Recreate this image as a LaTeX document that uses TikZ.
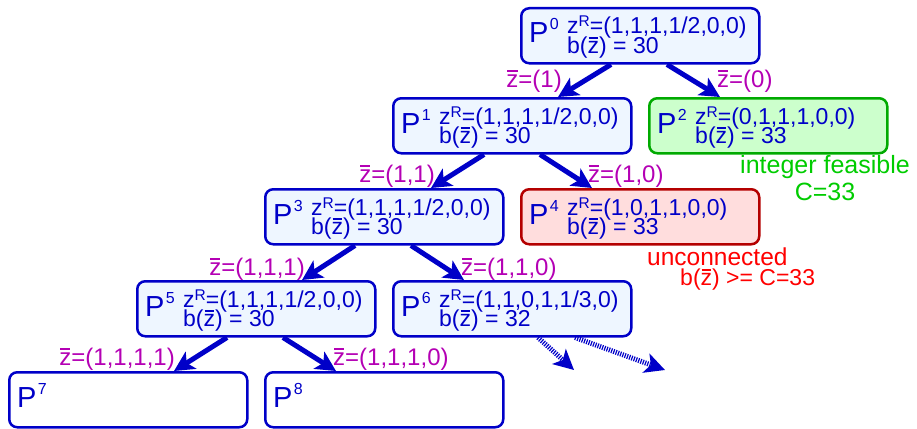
\documentclass[tikz,border=0pt]{standalone}
\usepackage{fontspec}
\setmainfont{Liberation Sans}
\usetikzlibrary{arrows.meta,calc}
\definecolor{tblue}{RGB}{0,0,200}
\definecolor{bfill}{RGB}{238,246,255}
\definecolor{mag}{RGB}{180,0,180}
\definecolor{gfill}{RGB}{204,255,204}
\definecolor{gline}{RGB}{0,170,0}
\definecolor{gtext}{RGB}{0,204,0}
\definecolor{rfill}{RGB}{255,221,221}
\definecolor{rline}{RGB}{180,0,0}
\definecolor{rtext}{RGB}{255,0,0}
\newcommand\zb{\rlap{\hspace{0.04em}\raisebox{0.62em}{\rule{0.42em}{0.08em}}}z}
\newcommand\Rsup{\raisebox{7pt}{\fontsize{15.5}{15.5}\selectfont R}}
\newcommand\twolines[2]{\vtop{\baselineskip=19.5pt\lineskiplimit=-100pt\hbox{#1}\hbox{#2}}}
\tikzset{
 box/.style={draw=tblue, fill=bfill, line width=2.5pt, rounded corners=8pt, minimum width=238pt, minimum height=55pt, inner sep=0pt, anchor=north west},
 wbox/.style={box, fill=white},
 gbox/.style={box, draw=gline, fill=gfill},
 rbox/.style={box, draw=rline, fill=rfill},
 txt/.style={text=tblue, inner sep=0pt, anchor=base west, font=\fontsize{23}{23}\selectfont},
 bigP/.style={txt, font=\fontsize{29}{29}\selectfont},
 supn/.style={txt, font=\fontsize{16}{16}\selectfont},
 lab/.style={text=mag, inner sep=0pt, font=\fontsize{24}{24}\selectfont},
 gt/.style={text=gtext, inner sep=0pt, anchor=base, font=\fontsize{25}{25}\selectfont},
 rt/.style={text=rtext, inner sep=0pt, anchor=base west, font=\fontsize{24.5}{24.5}\selectfont},
 arr/.style={draw=tblue, line width=5pt, -{Stealth[length=20pt,width=20pt,inset=5pt]}},
 darr/.style={arr, dash pattern=on 1.2pt off 1.2pt},
}
\newcommand\Pnode[4]{%
 \node[bigP] (#1p) at (#2+9,#3+36) {P};
 \node[supn] (#1s) at ($(#1p.base east)+(1,-13)$) {#4};
}
\newcommand\Lines[5]{%
 \node[txt] (#1a) at (#2+47,#3+27) {\twolines{z\Rsup=#4}{b(\zb) = #5}};
}
\begin{document}
\begin{tikzpicture}[x=1pt,y=-1pt]
\useasboundingbox (0,0) rectangle (917,428);
% boxes
\node[box] (p0) at (520,7) {};
\node[box] (p1) at (392,97) {};
\node[gbox] (p2) at (648,97) {};
\node[box] (p3) at (264,188) {};
\node[rbox] (p4) at (520,188) {};
\node[box] (p5) at (136,280) {};
\node[box] (p6) at (392,280) {};
\node[wbox] (p7) at (8,371) {};
\node[wbox] (p8) at (264,371) {};
% texts
\Pnode{t0}{520}{7}{0}\Lines{t0}{520}{7}{(1,1,1,1/2,0,0)}{30}
\Pnode{t1}{392}{97}{1}\Lines{t1}{392}{97}{(1,1,1,1/2,0,0)}{30}
\Pnode{t2}{648}{97}{2}\Lines{t2}{648}{97}{(0,1,1,1,0,0)}{33}
\Pnode{t3}{264}{188}{3}\Lines{t3}{264}{188}{(1,1,1,1/2,0,0)}{30}
\Pnode{t4}{520}{188}{4}\Lines{t4}{520}{188}{(1,0,1,1,0,0)}{33}
\Pnode{t5}{136}{280}{5}\Lines{t5}{136}{280}{(1,1,1,1/2,0,0)}{30}
\Pnode{t6}{392}{280}{6}\Lines{t6}{392}{280}{(1,1,0,1,1/3,0)}{32}
\Pnode{t7}{8}{371}{7}
\Pnode{t8}{264}{371}{8}
% arrows
\draw[arr] ($(p0.south west)+(91,0)$) -- ($(p1.north west)+(166,0)$);
\draw[arr] ($(p0.south west)+(147,0)$) -- ($(p2.north west)+(72,0)$);
\draw[arr] ($(p1.south west)+(92,0)$) -- ($(p3.north west)+(167,0)$);
\draw[arr] ($(p1.south west)+(148,0)$) -- ($(p4.north west)+(72,0)$);
\draw[arr] ($(p3.south west)+(91,0)$) -- ($(p5.north west)+(166,0)$);
\draw[arr] ($(p3.south west)+(147,0)$) -- ($(p6.north west)+(72,0)$);
\draw[arr] ($(p5.south west)+(91,0)$) -- ($(p7.north west)+(166,0)$);
\draw[arr] ($(p5.south west)+(147,0)$) -- ($(p8.north west)+(72,0)$);
\coordinate (d1) at (574,370);
\coordinate (d2) at (665,370);
\draw[darr] ($(p6.south west)+(146,0)$) -- (d1);
\draw[darr] ($(p6.south west)+(183,0)$) -- (d2);
% labels
\node[lab, anchor=base east] (l01) at (562,87) {\zb=(1)};
\node[lab, anchor=base west] (l02) at (717,87) {\zb=(0)};
\node[lab, anchor=base east] (l13) at (435,182) {\zb=(1,1)};
\node[lab, anchor=base west] (l14) at (588,182) {\zb=(1,0)};
\node[lab, anchor=base east] (l35) at (305,275) {\zb=(1,1,1)};
\node[lab, anchor=base west] (l36) at (461,275) {\zb=(1,1,0)};
\node[lab, anchor=base east] (l57) at (175,365) {\zb=(1,1,1,1)};
\node[lab, anchor=base west] (l58) at (333,365) {\zb=(1,1,1,0)};
% side notes
\node[gt] (gf1) at (825,173) {integer feasible};
\node[gt] (gf2) at (825,200) {C=33};
\node[rt] (uc1) at (647,265) {unconnected};
\node[rt, font=\fontsize{23}{23}\selectfont] (uc2) at (680,285) {b(\zb) >= C=33};
\end{tikzpicture}
\end{document}
